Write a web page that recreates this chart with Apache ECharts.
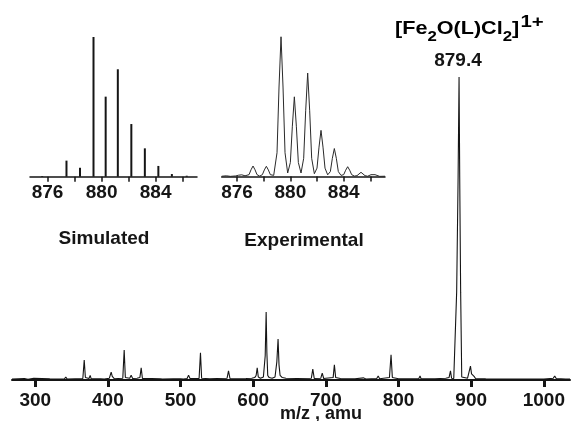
<!DOCTYPE html>
<html><head><meta charset="utf-8">
<script src="https://cdn.jsdelivr.net/npm/echarts@6/dist/echarts.min.js"></script>
<style>html,body{margin:0;padding:0;background:#fff}#c{width:573px;height:421px}</style>
</head><body><div id="c"></div>
<script>
// ---- data ----
const mainTicks = [300, 400, 500, 600, 700, 800, 900, 1000];
const insetTicks = [876, 878, 880, 882, 884, 886];
const insetLabels = [876, 880, 884];

// full spectrum: [m/z, relative intensity %]
const spectrum = [
  [268,0.3],[285,0.5],[290,0.2],[298,0.6],[300,0.3],[320,0.4],[340,0.3],[342,1.0],[344,0.3],
  [355,0.4],[365.5,0.5],[367.4,6.6],[369,0.8],[374,0.5],[375.6,1.5],[377,0.4],[390,0.4],[395,0.3],
  [402,0.6],[404.5,2.6],[406,1.2],[407.5,1.8],[409,0.4],[414,0.5],[420.5,0.6],[422.4,9.9],[424,0.8],
  [430,0.6],[432,1.6],[434,0.5],[440,0.6],[444,0.8],[445.8,4.0],[447.5,0.5],[460,0.5],[472,0.4],
  [473.5,0.9],[475,0.3],[490,0.4],[500,0.4],[502,0.9],[504,0.3],[509,0.5],[511,1.6],[513,0.5],
  [525.5,0.5],[527.4,9.0],[529,0.6],[540,0.4],[550,0.5],[564,0.6],[566,3.0],[568,0.5],[580,0.4],
  [590,0.5],[598,0.6],[600,1.2],[602,0.8],[604,1.5],[605.5,4.0],[607,1.0],[610,0.6],[614,1.0],
  [616.5,8],[617.8,22.4],[618.8,9],[620,1.5],[622,0.8],[626,0.6],[630,1.0],[632.5,6],[634.2,13.5],
  [635.5,5],[637,1.5],[640,0.8],[645,0.6],[660,0.5],[680,0.6],[682,3.6],[684,0.5],[693,0.6],
  [695,2.3],[697,0.5],[700,0.6],[710,0.8],[711.7,5.0],[713.5,0.8],[720,0.5],[740,0.4],[752,0.7],
  [755,0.3],[770,0.5],[772,1.3],[774,0.4],[787.5,0.8],[789.7,8.3],[791.5,0.8],[800,0.4],[815,0.4],
  [828,0.5],[829.6,1.3],[831,0.4],[850,0.4],[865,0.6],[869.5,0.8],[871.5,3.0],[873,0.6],[876,0.5],
  [877.5,1],[880,29],[882,67],[883.3,100],[884.2,67],[885.5,29],[887,1],[889,0.5],[895,0.6],
  [897.5,1],[899,4.6],[900.5,2],[902,1.6],[904,1.2],[906,0.5],[920,0.4],[940,0.3],[960,0.3],
  [980,0.3],[1000,0.3],[1013,0.6],[1015,1.3],[1017,0.5],[1030,0.3],[1036,0.3]
];

// simulated isotope pattern (stick lines)
const simulated = [
  [875.6,0.5],[877.4,11.5],[878.4,6.4],[879.4,100],[880.3,57.3],[881.2,76.9],
  [882.2,37.7],[883.2,20.3],[884.2,7.7],[885.2,1.9],[886.3,0.7]
];

// experimental isotope profile
const experimental = [
  [874.85,0.2],[875.2,0.5],[875.5,0.1],[875.9,0.4],[876.1,0.9],[876.35,1.2],[876.6,0.5],[876.75,0.3],
  [876.9,1.3],[877.05,4.8],[877.2,7.5],[877.35,4.8],[877.5,1.3],[877.7,0.3],
  [877.9,1.3],[878.05,4.7],[878.2,7.3],[878.35,4.7],[878.5,1.3],[878.75,0.8],
  [879.0,17],[879.15,64],[879.3,100],[879.45,64],[879.6,17],[879.8,2.5],
  [880.0,10],[880.15,36],[880.3,57],[880.45,36],[880.6,10],[880.8,2.5],
  [881.0,13],[881.15,47],[881.3,74],[881.45,47],[881.6,13],[881.8,2],
  [882.0,6],[882.15,21],[882.3,33],[882.45,21],[882.6,6],[882.8,1.2],
  [883.0,3.5],[883.15,13],[883.3,20],[883.45,13],[883.6,3.5],[883.8,0.8],
  [884.0,1.3],[884.15,4.5],[884.3,7],[884.45,4.5],[884.6,1.3],[884.8,0.3],
  [885.0,0.6],[885.15,2],[885.3,3],[885.45,2],[885.6,0.6],[885.8,0.2],
  [885.95,0.4],[886.05,1.3],[886.2,2],[886.35,1.3],[886.5,0.4],[886.7,0.1],[887.1,0.2]
];

// ---- chart ----
const FONT = '"Liberation Sans", Arial, Helvetica, sans-serif';
const INK = '#151515';
const chart = echarts.init(document.getElementById('c'), null, {renderer: 'canvas'});
const fmt = v => String(v);

function insetX(idx, min, max) {
  return {
    type: 'value', gridIndex: idx, min: min, max: max,
    splitLine: {show: false},
    axisLine: {show: true, lineStyle: {color: INK, width: 1.5}},
    axisTick: {show: true, customValues: insetTicks, length: 5, lineStyle: {color: INK, width: 1.5}},
    axisLabel: {show: true, customValues: insetLabels, formatter: fmt, margin: 7,
      fontSize: 19, fontWeight: 'bold', fontFamily: FONT, color: INK}
  };
}
function hiddenY(idx) {
  return {type: 'value', gridIndex: idx, min: 0, max: 100, show: false, splitLine: {show: false}};
}
function txt(x, y, text, size, align) {
  return {type: 'text', x: x, y: y, silent: true, style: {text: text, fontSize: size, fontWeight: 'bold',
    fontFamily: FONT, fill: INK, align: align || 'left', verticalAlign: 'middle'}};
}

chart.setOption({
  animation: false,
  backgroundColor: '#fff',
  grid: [
    {left: 12, right: 3, top: 77, bottom: 41},
    {left: 30, width: 167, top: 37, height: 139.7},
    {left: 221.7, width: 163.3, top: 36.7, height: 139.8}
  ],
  xAxis: [
    {
      type: 'value', gridIndex: 0, min: 268, max: 1036,
      splitLine: {show: false},
      axisLine: {show: true, lineStyle: {color: INK, width: 2}},
      axisTick: {show: true, customValues: mainTicks, length: 7, lineStyle: {color: INK, width: 3}},
      axisLabel: {show: true, customValues: mainTicks, formatter: fmt, margin: 11,
        fontSize: 19, fontWeight: 'bold', fontFamily: FONT, color: INK}
    },
    insetX(1, 874.7, 887.06),
    insetX(2, 874.85, 887.1)
  ],
  yAxis: [hiddenY(0), hiddenY(1), hiddenY(2)],
  series: [
    {type: 'line', xAxisIndex: 0, yAxisIndex: 0, data: spectrum, showSymbol: false,
      lineStyle: {color: INK, width: 1.1}, silent: true},
    {type: 'bar', xAxisIndex: 1, yAxisIndex: 1, data: simulated, barWidth: 2,
      itemStyle: {color: INK}, silent: true},
    {type: 'line', xAxisIndex: 2, yAxisIndex: 2, data: experimental, showSymbol: false,
      lineStyle: {color: '#2a2a2a', width: 1}, silent: true}
  ],
  graphic: [
    txt(104, 239, 'Simulated', 19, 'center'),
    txt(304, 241, 'Experimental', 19, 'center'),
    txt(458, 61, '879.4', 19, 'center'),
    txt(280, 414, 'm/z , amu', 18),
    {type: 'text', x: 395, y: 14, scaleX: 1.2, silent: true, style: {
      text: '{m|[Fe}{s|2}{m|O(L)Cl}{s|2}{m|]}{p|1+}',
      rich: {
        m: {fontSize: 18, fontWeight: 'bold', fontFamily: FONT, color: INK, lineHeight: 30, verticalAlign: 'middle'},
        s: {fontSize: 14, fontWeight: 'bold', fontFamily: FONT, color: INK, lineHeight: 27, verticalAlign: 'bottom'},
        p: {fontSize: 17, fontWeight: 'bold', fontFamily: FONT, color: INK, lineHeight: 10, verticalAlign: 'top', padding: [0, 0, 0, 1]}
      }
    }}
  ]
});
</script>
</body></html>
